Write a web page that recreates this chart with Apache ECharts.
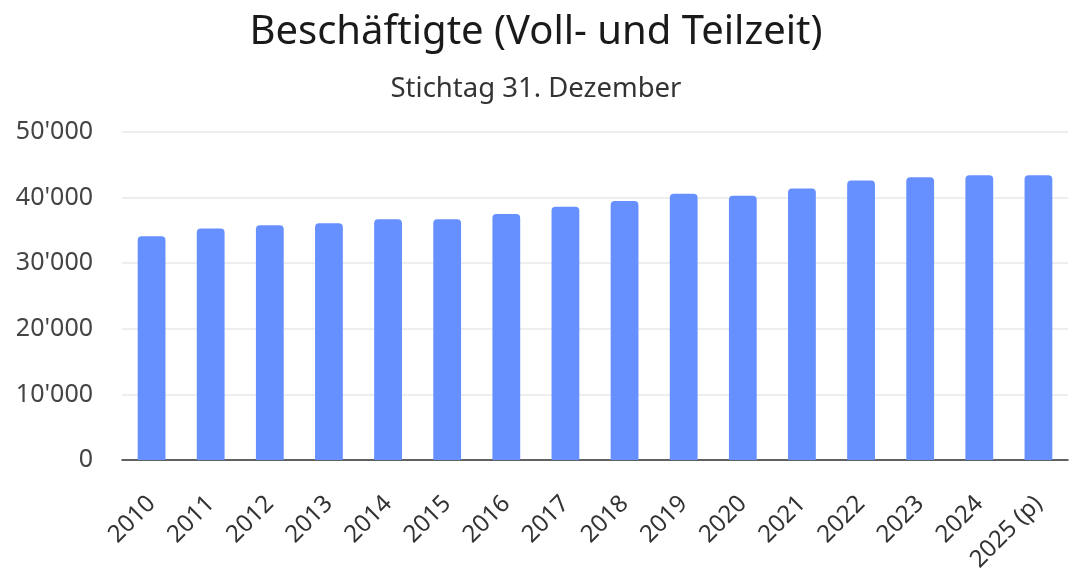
<!DOCTYPE html>
<html>
<head>
<meta charset="utf-8">
<script src="https://cdn.jsdelivr.net/npm/echarts@6/dist/echarts.min.js"></script>
<style>html,body{margin:0;padding:0;background:#fff}#c{width:1072px;height:576px}</style>
</head>
<body>
<div id="c"></div>
<script>
const categories = ['2010','2011','2012','2013','2014','2015','2016','2017','2018','2019','2020','2021','2022','2023','2024','2025 (p)'];
const employees = [34100, 35300, 35800, 36100, 36700, 36700, 37500, 38600, 39500, 40600, 40300, 41400, 42600, 43100, 43400, 43400];
const yTicks = [0, 10000, 20000, 30000, 40000, 50000];

const fmt = v => String(v).replace(/\B(?=(\d{3})+(?!\d))/g, "'");
const FONT = 'Noto Sans';
const chart = echarts.init(document.getElementById('c'));
chart.setOption({
  animation: false,
  backgroundColor: '#fff',
  title: [{
    text: 'Beschäftigte (Voll- und Teilzeit)',
    left: 'center',
    top: 8,
    textStyle: { fontFamily: FONT, fontSize: 40, fontWeight: 'normal', color: '#1a1a1a' }
  }, {
    text: 'Stichtag 31. Dezember',
    left: 'center',
    top: 70,
    textStyle: { fontFamily: FONT, fontSize: 27.5, fontWeight: 'normal', color: '#333' }
  }],
  grid: { left: 122, right: 4, top: 132, bottom: 116 },
  xAxis: {
    type: 'category',
    data: categories,
    axisLine: { lineStyle: { color: '#333', width: 1.5 } },
    axisTick: { show: false },
    axisLabel: { rotate: 45, fontFamily: FONT, fontSize: 24, color: '#333', margin: 40, interval: 0 }
  },
  yAxis: {
    type: 'value',
    min: yTicks[0],
    max: yTicks[yTicks.length - 1],
    interval: 10000,
    axisLine: { show: false },
    axisTick: { show: false },
    splitLine: { lineStyle: { color: '#e8e8e8', width: 1.5 } },
    axisLabel: { fontFamily: FONT, fontSize: 25, color: '#444', margin: 29, formatter: fmt }
  },
  series: [{
    type: 'bar',
    data: employees,
    barWidth: '47%',
    itemStyle: { color: '#6690ff', borderRadius: [4, 4, 0, 0] }
  }]
});
</script>
</body>
</html>
